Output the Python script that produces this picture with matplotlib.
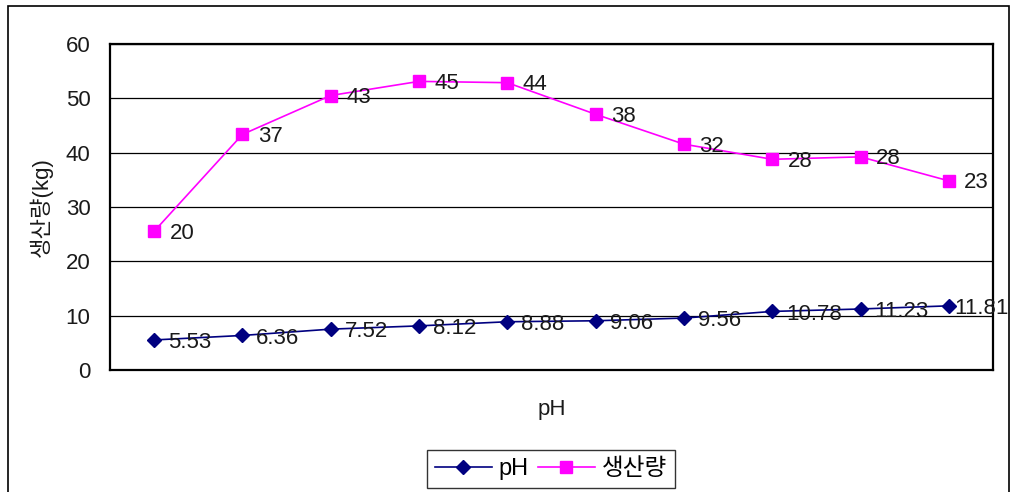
import numpy as np
import matplotlib
matplotlib.use("agg")
import matplotlib.pyplot as plt
from matplotlib.patches import Rectangle

plt.rcParams['font.family'] = ['Liberation Sans', 'Noto Sans CJK KR', 'DejaVu Sans']

# pH of each sample and yield (kg) at that pH
ph_values = [5.53, 6.36, 7.52, 8.12, 8.88, 9.06, 9.56, 10.78, 11.23, 11.81]
yield_kg = [20, 37, 43, 45, 44, 38, 32, 28, 28, 23]
series_names = ['pH', '생산량']
y_ticks = [0, 10, 20, 30, 40, 50, 60]

x = np.arange(len(ph_values))
# stacked line chart: second series sits on top of the first
ph_line = np.array(ph_values)
yield_line = ph_line + np.array(yield_kg)

FS = 16
TXT = '#1a1a1a'

fig = plt.figure(figsize=(10.13, 4.92), dpi=100)
fig.patches.append(Rectangle((8 / 1013, -0.1), 1001 / 1013, 1.1 - 6 / 492,
                             transform=fig.transFigure, fill=False,
                             edgecolor='black', linewidth=1.2))

ax = fig.add_axes([110 / 1013, 1 - 370 / 492, 883 / 1013, 326 / 492])
ax.plot(x, ph_line, color='#000080', marker='D', markersize=7.5,
        linewidth=1.2, label=series_names[0], zorder=3)
ax.plot(x, yield_line, color='#FF00FF', marker='s', markersize=9,
        linewidth=1.2, label=series_names[1], zorder=3)

for i, (xi, yi, v) in enumerate(zip(x, ph_line, ph_values)):
    # last label is pulled in so it stays inside the chart
    dx = 4 if i == len(x) - 1 else 10
    ax.annotate(f'{v:.2f}', (xi, yi), xytext=(dx, -2), textcoords='offset points',
                ha='left', va='center', fontsize=FS, color=TXT, zorder=4,
                annotation_clip=False)
for xi, yi, v in zip(x, yield_line, yield_kg):
    ax.annotate(f'{v}', (xi, yi), xytext=(11, -1.5), textcoords='offset points',
                ha='left', va='center', fontsize=FS, color=TXT, zorder=4)

ax.set_xlim(-0.5, len(ph_values) - 0.5)
ax.set_ylim(0, 60)
ax.set_yticks(y_ticks)
ax.set_yticklabels([str(t) for t in y_ticks], fontsize=FS, color=TXT)
ax.set_xticks([])
ax.tick_params(axis='y', length=0, pad=14)
ax.yaxis.grid(True, color='black', linewidth=0.9)
ax.set_axisbelow(True)
for s in ax.spines.values():
    s.set_linewidth(1.6)
    s.set_color('black')

ax.set_ylabel('생산량(kg)', fontsize=FS, color=TXT, labelpad=9)
fig.text(552 / 1013, 1 - 410 / 492, 'pH', ha='center', va='center',
         fontsize=FS, color=TXT)

fig.legend(loc='center', bbox_to_anchor=(551 / 1013, 1 - 469 / 492),
           ncol=2, fontsize=17, frameon=True, fancybox=False,
           edgecolor='black', handlelength=2.4, handletextpad=0.3,
           columnspacing=0.4, borderpad=0.35, borderaxespad=0)

fig.savefig('out.png', dpi=100)
